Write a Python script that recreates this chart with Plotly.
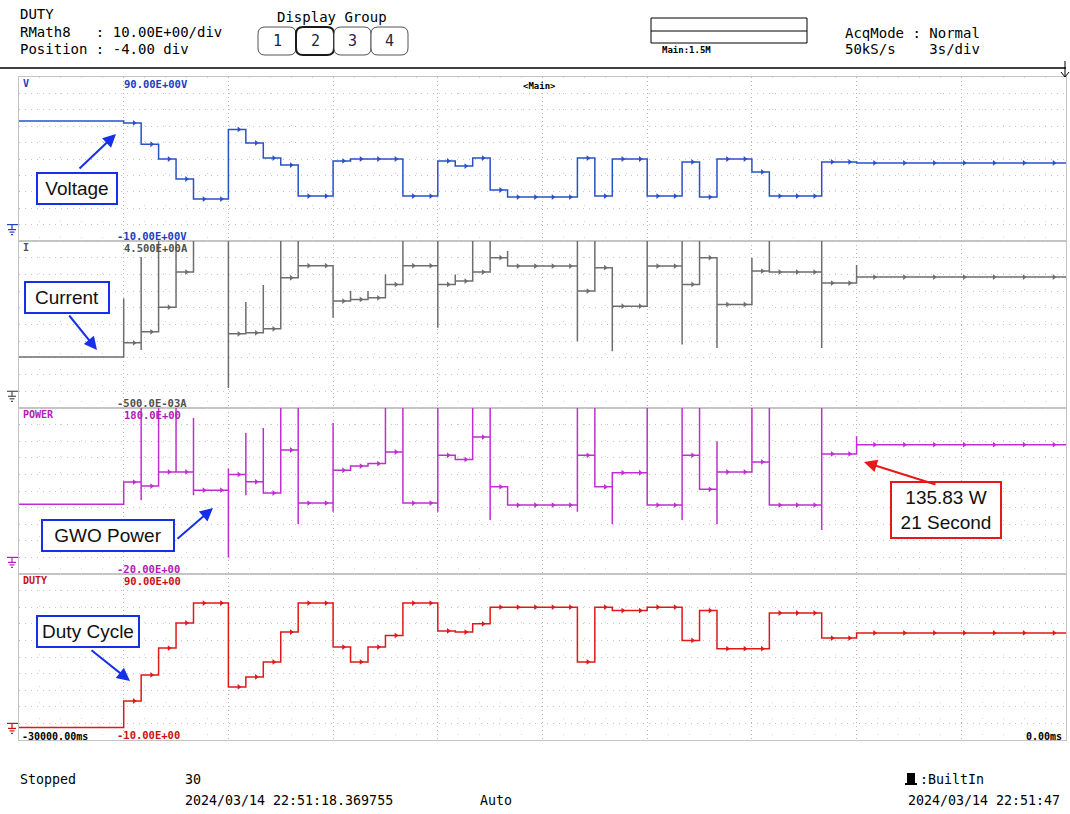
import plotly.graph_objects as go

W, H = 1070, 814

# ---------------------------------------------------------------- data
# instants (s) at which the GWO controller applies a new duty cycle
step_times = [-27.0, -26.5, -26.0, -25.5, -25.0, -24.5, -24.0, -23.5, -23.0, -22.5,
              -22.0, -21.5, -21.0, -20.5, -20.0, -19.5, -19.0, -18.5, -18.0, -17.5,
              -17.0, -16.5, -16.0, -15.5, -15.0, -14.5, -14.0, -13.5, -13.0, -12.5,
              -12.0, -11.5, -11.0, -10.5, -10.0, -9.5, -9.0, -8.5, -8.0, -7.5,
              -7.0, -6.5, -6.0]

# levels: value before the first step, then the value after each step
voltage = [63.2, 62.0, 49.0, 40.0, 27.8, 15.6, 15.6, 58.0, 49.8, 40.6, 36.3,
           17.4, 17.4, 38.8, 40.0, 40.0, 40.0, 17.4, 17.4, 38.8, 35.7,
           40.6, 21.1, 16.8, 16.8, 16.8, 16.8, 40.6, 17.4, 40.0, 40.0,
           17.4, 17.4, 38.2, 16.8, 40.0, 40.0, 32.1, 17.4, 17.4, 17.4,
           38.2, 38.2, 37.6]
current = [1.03, 1.45, 1.78, 2.52, 3.57, 5.2, 5.2, 1.72, 1.75, 1.87, 3.4,
           3.76, 3.76, 2.7, 2.75, 2.8, 3.2, 3.76, 3.76, 3.2, 3.3,
           3.57, 4.0, 3.75, 3.75, 3.75, 3.75, 3.0, 3.7, 2.55, 2.55,
           3.75, 3.75, 3.2, 4.0, 2.6, 2.6, 3.6, 3.57, 3.57, 3.57,
           3.24, 3.24, 3.42]
power = [64.0, 90.8, 86.0, 103.0, 103.0, 81.0, 81.0, 100.0, 91.0, 77.6, 129.4,
         65.5, 65.5, 105.0, 110.0, 113.0, 127.0, 65.5, 65.5, 123.0, 118.0,
         145.0, 85.0, 63.0, 63.0, 63.0, 63.0, 123.0, 85.0, 102.0, 102.0,
         63.0, 63.0, 123.0, 82.0, 103.0, 103.0, 115.0, 63.0, 63.0, 63.0,
         124.6, 124.6, 135.83]
duty = [-2.5, 13.5, 29.2, 45.4, 60.5, 72.5, 72.5, 22.0, 28.0, 37.0, 55.0,
        72.5, 72.5, 46.0, 37.0, 46.0, 53.0, 72.5, 72.5, 55.7, 55.0,
        60.0, 70.0, 70.0, 70.0, 70.0, 70.0, 37.0, 70.0, 68.0, 68.0,
        70.0, 70.0, 50.0, 68.0, 45.0, 45.0, 45.0, 66.5, 66.5, 66.5,
        51.4, 51.4, 54.5]

# switching transients at each step (peak high / peak low), None = no overshoot
current_hi = [2.78, 4.02, 4.6, 4.6, 4.6, None, 4.6, 2.67, 3.18, 4.6,
              4.6, None, 3.0, 3.0, 3.0, 3.5, 4.6, None, 4.6, 3.5,
              4.6, 4.6, 4.2, None, None, None, 4.6, 4.6, 3.0, None,
              4.6, None, 4.6, 4.6, 3.0, None, 4.0, 4.6, None, None,
              4.6, None, 3.78]
current_lo = [None, 1.24, None, None, None, None, 0.1, None, None, None,
              None, None, 2.2, None, None, None, None, None, 1.9, None,
              None, None, None, None, None, None, 1.5, None, 1.2, None,
              None, None, 1.4, None, 1.3, None, None, None, None, None,
              1.3, None, None]
power_hi = [None, 185, 185, 185, 168, None, 107, 150, 156, 185,
            185, None, 162, None, None, 185, 185, None, 185, None,
            185, 185, None, None, None, None, 185, 185, None, None,
            185, None, 185, 185, 140, None, 185, 185, None, None,
            185, None, 146]
power_lo = [None, 69, None, None, 75, None, 0, 75, None, None,
            40, None, 55, None, None, None, None, None, 55, None,
            None, 45, None, None, None, None, 55, None, 40, None,
            None, None, 45, None, 40, None, None, None, None, None,
            33, None, None]

# ---------------------------------------------------------------- styling
C_V, C_I, C_P, C_D = "#2a52c8", "#6e6e6e", "#c02ed2", "#e01818"
MONO = "DejaVu Sans Mono"
SANS = "Liberation Sans, Arial"


def px(x):
    return x / W


def py(y):
    return 1 - y / H


def step_xy(levels, hi=None, lo=None):
    xs, ys = [-30.0], [levels[0]]
    for i, t in enumerate(step_times):
        xs.append(t); ys.append(levels[i])
        if hi is not None and hi[i] is not None:
            xs.append(t); ys.append(hi[i])
        if lo is not None and lo[i] is not None:
            xs.append(t); ys.append(lo[i])
        xs.append(t); ys.append(levels[i + 1])
    xs.append(0.0); ys.append(levels[-1])
    return xs, ys


def blips(levels):
    """Small acquisition markers riding on each held level after the first step."""
    bounds = step_times + [0.0]
    xs, ys = [], []
    for i in range(len(step_times)):
        a, b = bounds[i], bounds[i + 1]
        n = max(1, round((b - a) / 0.85))
        for j in range(n):
            xs.append(a + (b - a) * (j + 0.6) / n)
            ys.append(levels[i + 1])
    return xs, ys


# panel pixel extents (top, bottom) and value ranges
panels = [
    dict(top=77, bot=241, rng=[-10, 90], dt=10, color=C_V),
    dict(top=241, bot=408, rng=[-0.5, 4.5], dt=0.5, color=C_I),
    dict(top=408, bot=574, rng=[-20, 180], dt=20, color=C_P),
    dict(top=574, bot=740, rng=[-10, 90], dt=10, color=C_D),
]
X0, X1 = 19, 1066

fig = go.Figure()
series = [
    (voltage, None, None),
    (current, current_hi, current_lo),
    (power, power_hi, power_lo),
    (duty, None, None),
]
for k, (lv, hi, lo) in enumerate(series):
    sfx = "" if k == 0 else str(k + 1)
    xs, ys = step_xy(lv, hi, lo)
    fig.add_trace(go.Scatter(x=xs, y=ys, mode="lines",
                             line=dict(color=panels[k]["color"], width=1.5),
                             xaxis="x" + sfx, yaxis="y" + sfx,
                             hoverinfo="skip", showlegend=False))
    bx, by = blips(lv)
    fig.add_trace(go.Scatter(x=bx, y=by, mode="markers",
                             marker=dict(symbol="triangle-right", size=5,
                                         color=panels[k]["color"]),
                             xaxis="x" + sfx, yaxis="y" + sfx, cliponaxis=True,
                             hoverinfo="skip", showlegend=False))

layout = dict(width=W, height=H, margin=dict(l=0, r=0, t=0, b=0),
              paper_bgcolor="white", plot_bgcolor="white", showlegend=False)
for k, p in enumerate(panels):
    sfx = "" if k == 0 else str(k + 1)
    layout["xaxis" + sfx] = dict(
        domain=[px(X0), px(X1)], range=[-30, 0], anchor="y" + sfx,
        tick0=-30, dtick=3, showticklabels=False, ticks="",
        showgrid=True, gridcolor="#b8b8b8", griddash="1px,3px", gridwidth=1,
        minor=dict(dtick=0.6, showgrid=True, gridcolor="#d6d6d6", griddash="1px,15px"),
        showline=True, linecolor="#c4c4c4", linewidth=1, mirror=True,
        zeroline=False, fixedrange=True,
        **({} if k == 0 else {"matches": "x"}))
    layout["yaxis" + sfx] = dict(
        domain=[py(p["bot"]), py(p["top"])], range=p["rng"], anchor="x" + sfx,
        tick0=p["rng"][0], dtick=p["dt"], showticklabels=False, ticks="",
        showgrid=True, gridcolor="#c4c4c4", griddash="1px,5px", gridwidth=1,
        showline=True, linecolor="#c4c4c4", linewidth=1, mirror=True,
        zeroline=False, fixedrange=True)
fig.update_layout(**layout)

ann = []
shapes = []


def text(x, y, s, size=14, color="black", font=MONO, xanchor="left", bold=False):
    ann.append(dict(x=px(x), y=py(y), xref="paper", yref="paper", text=f"<b>{s}</b>" if bold else s,
                    showarrow=False, xanchor=xanchor, yanchor="middle",
                    font=dict(family=font, size=size, color=color)))


def line(x0, y0, x1, y1, color="black", width=1):
    shapes.append(dict(type="line", xref="paper", yref="paper",
                       x0=px(x0), y0=py(y0), x1=px(x1), y1=py(y1),
                       line=dict(color=color, width=width)))


def rect(x0, y0, x1, y1, color="black", width=1, fill=None):
    shapes.append(dict(type="rect", xref="paper", yref="paper",
                       x0=px(x0), y0=py(y0), x1=px(x1), y1=py(y1),
                       line=dict(color=color, width=width),
                       fillcolor=fill if fill else "rgba(0,0,0,0)"))


def rrect(x0, y0, x1, y1, r, color, width):
    pts = (f"M {px(x0 + r)},{py(y0)} L {px(x1 - r)},{py(y0)} "
           f"Q {px(x1)},{py(y0)} {px(x1)},{py(y0 + r)} L {px(x1)},{py(y1 - r)} "
           f"Q {px(x1)},{py(y1)} {px(x1 - r)},{py(y1)} L {px(x0 + r)},{py(y1)} "
           f"Q {px(x0)},{py(y1)} {px(x0)},{py(y1 - r)} L {px(x0)},{py(y0 + r)} "
           f"Q {px(x0)},{py(y0)} {px(x0 + r)},{py(y0)} Z")
    shapes.append(dict(type="path", xref="paper", yref="paper", path=pts,
                       line=dict(color=color, width=width), fillcolor="white"))


# header
text(18, 14, "DUTY")
text(18, 32, "RMath8   : 10.00E+00/div")
text(18, 49, "Position : -4.00 div")
text(332, 17, "Display Group", xanchor="center")
for i, (a, b) in enumerate([(258, 296), (296, 334), (334, 371), (371, 408)]):
    sel = i == 1
    rrect(a, 27, b, 55, 7, "#1a1a1a" if sel else "#555555", 2 if sel else 1)
    text((a + b) / 2, 41, str(i + 1), size=15, color="#1c2840", xanchor="center")
rect(651, 18, 807, 43)
line(651, 31, 807, 31)
text(660, 50, "Main:1.5M", size=9, bold=True)
text(843, 33, "AcqMode : Normal")
text(843, 49, "50kS/s    3s/div")
line(0, 68, 1066, 68, width=1.5)
line(1065, 61, 1065, 77, width=1)
line(1061, 72, 1065, 77, width=1)
line(1069, 72, 1065, 77, width=1)

# panel labels
names = ["V", "I", "POWER", "DUTY"]
tops = ["90.00E+00V", "4.500E+00A", "180.0E+00", "90.00E+00"]
bots = ["-10.00E+00V", "-500.0E-03A", "-20.00E+00", "-10.00E+00"]
lab_col = ["#2040c0", "#505050", "#b020b8", "#cc1010"]
for k, p in enumerate(panels):
    text(21, p["top"] + 6.5, names[k], size=10, color=lab_col[k], bold=True)
    text(122, p["top"] + 7, tops[k], size=10.5, color=lab_col[k], bold=True)
    text(115, p["bot"] - 5, bots[k], size=10.5, color=lab_col[k], bold=True)
    # ground reference marker at the zero level
    z = p["top"] + (p["bot"] - p["top"]) * (p["rng"][1] - 0) / (p["rng"][1] - p["rng"][0])
    c = lab_col[k]
    line(7, z, 18, z, c, 1.2)
    line(12, z, 12, z + 5, c, 1.2)
    line(8, z + 5, 16, z + 5, c, 1.2)
    line(9.5, z + 7.5, 14.5, z + 7.5, c, 1.2)
    line(11, z + 10, 13, z + 10, c, 1.2)
text(540, 86, "<Main>", size=9, bold=True, xanchor="center")
text(20, 736, "-30000.00ms", size=10, bold=True)
text(1064, 736, "0.00ms", size=10, bold=True, xanchor="right")

# footer
text(18, 779, "Stopped", size=13.3)
text(183, 779, "30", size=13.3)
text(183, 800, "2024/03/14 22:51:18.369755", size=13.3)
text(478, 800, "Auto", size=13.3)
rect(907, 773, 915, 784, fill="black", width=0)
line(905, 784, 917, 784, width=2)
text(918, 779, ":BuiltIn", size=13.3)
text(906, 800, "2024/03/14 22:51:47", size=13.3)


# callout boxes with arrows
def callout(cx, cy, s, color, head, tail, w=None):
    ann.append(dict(x=px(cx), y=py(cy), xref="paper", yref="paper", text=s,
                    showarrow=False, xanchor="center", yanchor="middle",
                    font=dict(family=SANS, size=19, color="#111111"),
                    bgcolor="white", bordercolor=color, borderwidth=2, borderpad=4,
                    width=w, align="center"))
    ann.append(dict(x=px(head[0]), y=py(head[1]), xref="paper", yref="paper",
                    ax=tail[0] - head[0], ay=tail[1] - head[1], text="",
                    showarrow=True, arrowhead=2, arrowsize=1.3, arrowwidth=2,
                    arrowcolor=color))


callout(77, 189, "Voltage", "#1530e8", (116, 134), (78, 170), w=70)
callout(67, 297, "Current", "#1530e8", (97, 350), (68, 314), w=74)
callout(108, 535, "GWO Power", "#1530e8", (213, 508), (176, 540), w=122)
callout(88, 631, "Duty Cycle", "#1530e8", (130, 681), (90, 649), w=92)
callout(946, 510, "135.83 W<br>21 Second", "#e81818", (864, 462), (937, 485), w=100)

fig.update_layout(annotations=ann, shapes=shapes)
fig.write_html("out.html")
